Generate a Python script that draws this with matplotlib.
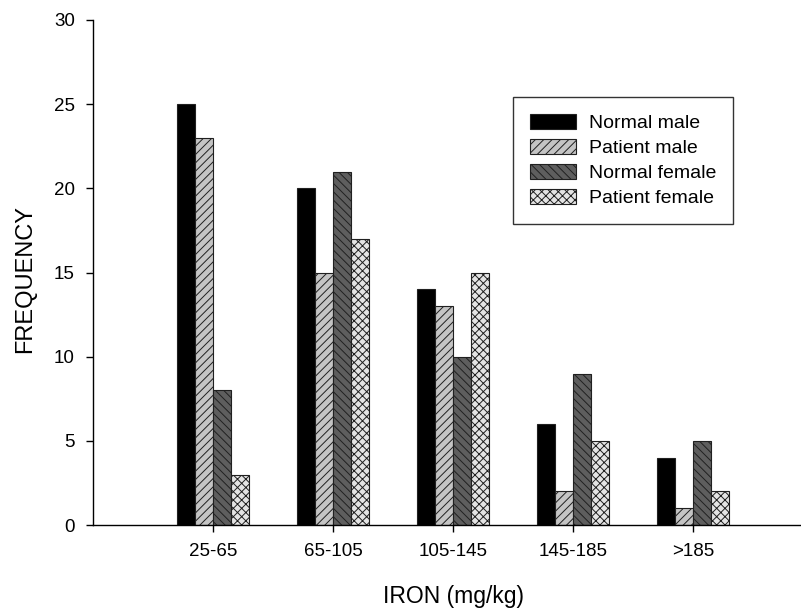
import numpy as np
import matplotlib
matplotlib.use("Agg")
import matplotlib.pyplot as plt

plt.rcParams['font.family'] = ['Liberation Sans', 'DejaVu Sans']
plt.rcParams['hatch.linewidth'] = 0.7

# data
categories = ["25-65", "65-105", "105-145", "145-185", ">185"]
normal_male = [25, 20, 14, 6, 4]
patient_male = [23, 15, 13, 2, 1]
normal_female = [8, 21, 10, 9, 5]
patient_female = [3, 17, 15, 5, 2]

series = [
    ("Normal male", normal_male, "#000000", ""),
    ("Patient male", patient_male, "#c4c4c4", "////"),
    ("Normal female", normal_female, "#5e5e5e", "\\\\\\\\"),
    ("Patient female", patient_female, "#e4e4e4", "xxxx"),
]

fig = plt.figure(figsize=(8.01, 6.08), dpi=100)
ax = fig.add_axes([93 / 801, 1 - 525 / 608, 707 / 801, 505 / 608])

x = np.arange(len(categories))
w = 0.15
for i, (name, vals, col, hatch) in enumerate(series):
    ax.bar(x + (i - 1.5) * w, vals, width=w, color=col, hatch=hatch,
           edgecolor="#202020", linewidth=0.8, label=name)

ax.set_xlim(-1.0, 4.89)
ax.set_ylim(0, 30)
ax.set_yticks(range(0, 31, 5))
ax.set_xticks(x)
ax.set_xticklabels(categories)

ax.spines['top'].set_visible(False)
ax.spines['right'].set_visible(False)
ax.spines['left'].set_linewidth(1.0)
ax.spines['bottom'].set_linewidth(1.0)
ax.tick_params(axis='both', direction='out', length=5, width=1.0,
               labelsize=13.5, pad=8)

ax.set_xlabel("IRON (mg/kg)", fontsize=16.5)
ax.set_ylabel("FREQUENCY", fontsize=17)
ax.xaxis.set_label_coords(0.51, -0.119)
ax.yaxis.set_label_coords(-0.081, 0.488)

leg = ax.legend(loc='upper left', bbox_to_anchor=(513 / 801, 1 - 97 / 608),
                bbox_transform=fig.transFigure, borderaxespad=0,
                fontsize=14, fancybox=False, frameon=True,
                handlelength=2.37, handleheight=0.82, handletextpad=0.67,
                labelspacing=0.35, borderpad=0.85)
leg.get_frame().set_edgecolor("black")
leg.get_frame().set_linewidth(1.0)

fig.savefig("out.png", dpi=100)
